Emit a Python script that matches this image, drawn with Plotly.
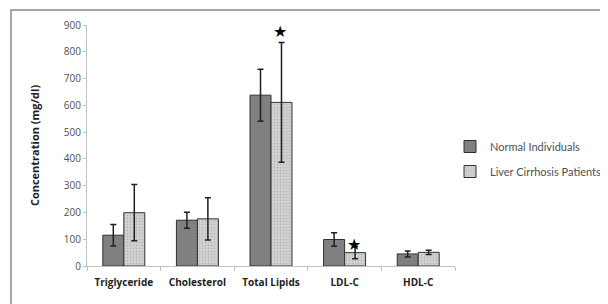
import plotly.graph_objects as go

categories = ["Triglyceride", "Cholesterol", "Total Lipids", "LDL-C", "HDL-C"]
normal_vals = [115, 171, 638, 99, 45]
normal_err = [40, 30, 97, 25, 11]
liver_vals = [199, 176, 611, 50, 51]
liver_err = [105, 79, 224, 23, 8]
star_cats = ["Total Lipids", "LDL-C"]
star_y = [875, 80]
y_ticks = [0, 100, 200, 300, 400, 500, 600, 700, 800, 900]

# page has an 8px body margin, so the figure is drawn 8px in from the window
OFF = 8
W, H = 608 - OFF, 304 - OFF
L, T = 87 - OFF, 25 - OFF
PR, PB = 455 - OFF, 266 - OFF
R, B = W - PR, H - PB
pw, ph = PR - L, PB - T


def px_x(x):
    return (x - OFF - L) / pw


def px_y(y):
    return (PB - (y - OFF)) / ph


fig = go.Figure()
fig.add_trace(go.Bar(
    name="Normal Individuals", x=categories, y=normal_vals, legendgroup="a",
    marker=dict(color="#808080", line=dict(color="#303030", width=1)),
    error_y=dict(type="data", array=normal_err, color="#202020", thickness=1.5, width=3),
))
fig.add_trace(go.Bar(
    name="Liver Cirrhosis Patients", x=categories, y=liver_vals, legendgroup="b",
    marker=dict(color="#cfcfcf", line=dict(color="#303030", width=1),
                pattern=dict(shape=".", fgcolor="#9a9a9a", bgcolor="#d4d4d4", size=3, solidity=0.3)),
    error_y=dict(type="data", array=liver_err, color="#202020", thickness=1.5, width=3),
))

for c, yv in zip(star_cats, star_y):
    fig.add_annotation(x=c, y=yv, text="★", showarrow=False, xshift=9,
                       font=dict(size=16, color="#000000", family="DejaVu Sans"))

fig.add_shape(type="rect", xref="paper", yref="paper",
              x0=px_x(11), x1=px_x(640), y0=px_y(330), y1=px_y(10),
              line=dict(color="#888888", width=1.5), fillcolor="rgba(0,0,0,0)")

fig.update_layout(
    width=W, height=H,
    margin=dict(l=L, r=R, t=T, b=B, autoexpand=False),
    paper_bgcolor="white", plot_bgcolor="white",
    barmode="group", bargap=0.43, bargroupgap=0,
    showlegend=True,
    legend=dict(x=px_x(450), y=px_y(132), xanchor="left", yanchor="top",
                font=dict(family="Lato", size=11, color="#505050"),
                itemwidth=30, traceorder="grouped", tracegroupgap=6, bgcolor="rgba(0,0,0,0)"),
    font=dict(family="Open Sans"),
)
fig.update_xaxes(
    showline=True, linecolor="#c0c0c0", linewidth=1,
    ticks="outside", tickson="boundaries", ticklen=4, tickcolor="#c0c0c0",
    ticklabelstandoff=7,
    tickfont=dict(family="Open Sans", size=10, color="#222222", weight="bold"),
    showgrid=False,
)
fig.update_yaxes(
    range=[0, 900], tickvals=y_ticks, showline=True, linecolor="#c0c0c0", linewidth=1,
    ticks="outside", ticklen=3, tickcolor="#c0c0c0",
    tickfont=dict(family="Open Sans", size=10, color="#505050"),
    showgrid=False, zeroline=False,
    title=dict(text="Concentration (mg/dl)", font=dict(family="Open Sans", size=11, color="#222222", weight="bold"), standoff=21),
)
fig.write_html("out.html")
